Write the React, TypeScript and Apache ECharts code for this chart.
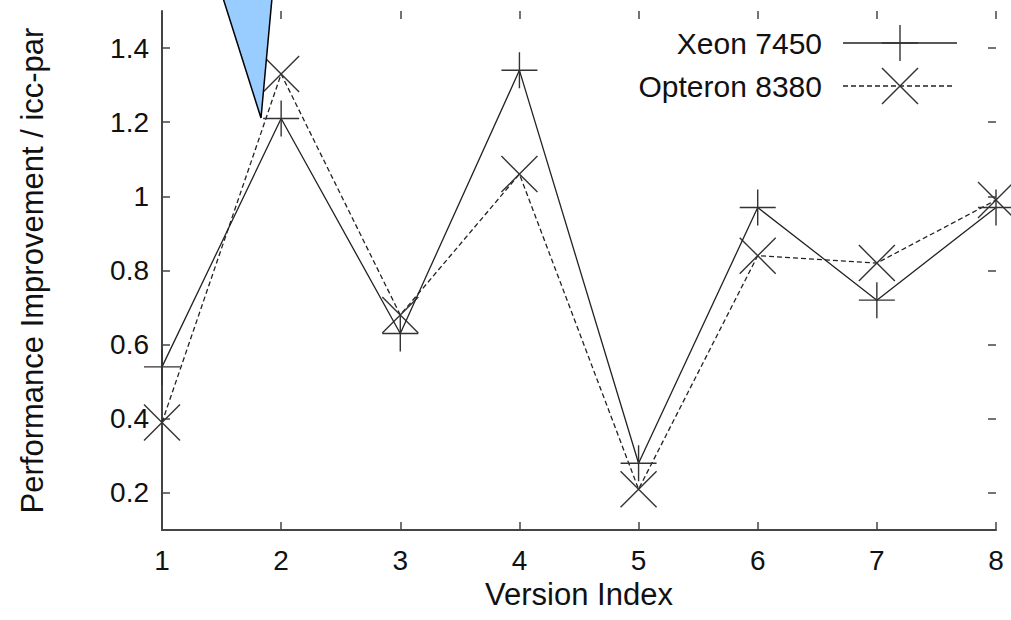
import React, { useEffect, useRef } from "react";
import * as echarts from "echarts";

// Version indices on the x axis
const versions = [1, 2, 3, 4, 5, 6, 7, 8];
// Performance improvement relative to icc-par
const xeon7450 = [0.54, 1.21, 0.63, 1.34, 0.28, 0.97, 0.72, 0.97];
const opteron8380 = [0.39, 1.33, 0.68, 1.06, 0.21, 0.84, 0.82, 0.99];
// Tick values
const xTicks = [1, 2, 3, 4, 5, 6, 7, 8];
const yTicks = [0.2, 0.4, 0.6, 0.8, 1, 1.2, 1.4];

const FONT = "'Liberation Sans', Arial, sans-serif";
const INK = "#222";
const PLUS = "path://M18,0 L18,36 M0,18 L36,18";
const CROSS = "path://M0,0 L36,36 M36,0 L0,36";

export default function App() {
  const ref = useRef<HTMLDivElement>(null);

  useEffect(() => {
    if (!ref.current) return;
    const chart = echarts.init(ref.current, undefined, { renderer: "svg" });

    const tickStyle = { show: true, inside: true, length: 8, lineStyle: { color: "#444", width: 1.5 } };

    chart.setOption({
      animation: false,
      backgroundColor: "#fff",
      grid: { left: 162, right: 15, top: 11, bottom: 90, containLabel: false },
      xAxis: [
        {
          type: "value",
          min: xTicks[0],
          max: xTicks[xTicks.length - 1],
          interval: 1,
          position: "bottom",
          splitLine: { show: false },
          axisLine: { show: true, onZero: false, lineStyle: { color: "#444", width: 2 } },
          axisTick: tickStyle,
          axisLabel: { color: "#111", fontFamily: FONT, fontSize: 28, margin: 16 },
          name: "Version Index",
          nameLocation: "middle",
          nameGap: 45,
          nameTextStyle: { color: "#111", fontFamily: FONT, fontSize: 31 },
        },
        {
          type: "value",
          min: xTicks[0],
          max: xTicks[xTicks.length - 1],
          interval: 1,
          position: "top",
          splitLine: { show: false },
          axisLine: { show: false },
          axisTick: tickStyle,
          axisLabel: { show: false },
        },
      ],
      yAxis: [
        {
          type: "value",
          min: 0.1,
          max: 1.5,
          position: "left",
          splitLine: { show: false },
          axisLine: { show: true, onZero: false, lineStyle: { color: "#444", width: 2 } },
          axisTick: { ...tickStyle, customValues: yTicks },
          axisLabel: {
            customValues: yTicks,
            color: "#111",
            fontFamily: FONT,
            fontSize: 28,
            margin: 13,
            formatter: (v: number) => String(Math.round(v * 10) / 10),
          },
          name: "Performance Improvement / icc-par",
          nameLocation: "middle",
          nameGap: 114,
          nameTextStyle: { color: "#111", fontFamily: FONT, fontSize: 31 },
        },
        {
          type: "value",
          min: 0.1,
          max: 1.5,
          position: "right",
          splitLine: { show: false },
          axisLine: { show: false },
          axisTick: { ...tickStyle, customValues: yTicks },
          axisLabel: { show: false },
        },
      ],
      series: [
        {
          name: "Xeon 7450",
          type: "line",
          data: versions.map((v, i) => [v, xeon7450[i]]),
          clip: false,
          symbol: PLUS,
          symbolSize: [36, 36],
          showAllSymbol: true,
          lineStyle: { color: INK, width: 1.3 },
          itemStyle: { color: "none", borderColor: "#333", borderWidth: 1.4 },
          z: 3,
        },
        {
          name: "Opteron 8380",
          type: "line",
          data: versions.map((v, i) => [v, opteron8380[i]]),
          clip: false,
          symbol: CROSS,
          symbolSize: [36, 36],
          showAllSymbol: true,
          lineStyle: { color: INK, width: 1.3, type: [5, 3] },
          itemStyle: { color: "none", borderColor: "#333", borderWidth: 1.4 },
          z: 2,
        },
      ],
      graphic: [
        // callout pointer
        {
          type: "polygon",
          z: 10,
          shape: { points: [[223, -2], [272, -2], [261, 118]] },
          style: { fill: "#99ccff", stroke: "#000", lineWidth: 1.5 },
        },
        // key
        {
          type: "text",
          x: 822,
          y: 43,
          style: { text: "Xeon 7450", fill: "#111", font: `30px ${FONT}`, align: "right", verticalAlign: "middle" },
        },
        { type: "line", shape: { x1: 843, y1: 43, x2: 957, y2: 43 }, style: { stroke: INK, lineWidth: 1.3 } },
        { type: "line", shape: { x1: 900, y1: 25, x2: 900, y2: 61 }, style: { stroke: "#333", lineWidth: 1.4 } },
        { type: "line", shape: { x1: 882, y1: 43, x2: 918, y2: 43 }, style: { stroke: "#333", lineWidth: 1.4 } },
        {
          type: "text",
          x: 822,
          y: 86,
          style: { text: "Opteron 8380", fill: "#111", font: `30px ${FONT}`, align: "right", verticalAlign: "middle" },
        },
        {
          type: "line",
          shape: { x1: 843, y1: 86, x2: 955, y2: 86 },
          style: { stroke: INK, lineWidth: 1.3, lineDash: [5, 3] },
        },
        { type: "line", shape: { x1: 882, y1: 68, x2: 918, y2: 104 }, style: { stroke: "#333", lineWidth: 1.4 } },
        { type: "line", shape: { x1: 918, y1: 68, x2: 882, y2: 104 }, style: { stroke: "#333", lineWidth: 1.4 } },
      ],
    });

    return () => chart.dispose();
  }, []);

  return (
    <div
      ref={ref}
      style={{ position: "fixed", left: 0, top: 0, width: 1011, height: 620, background: "#fff" }}
    />
  );
}
